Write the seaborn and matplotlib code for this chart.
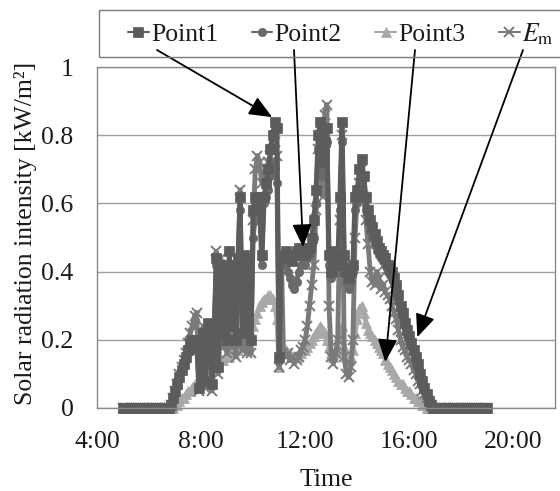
import numpy as np
import pandas as pd
import matplotlib
matplotlib.use("Agg")
import matplotlib.pyplot as plt
import seaborn as sns
from matplotlib.lines import Line2D
from matplotlib.patches import Rectangle

sns.set_theme(style="white")
plt.rcParams['font.family'] = ['Liberation Serif', 'DejaVu Serif']
plt.rcParams['mathtext.fontset'] = 'stix'

# time grid: every 5 minutes from 5:00 to 19:00 (hours as float)
time_h = np.arange(5 * 60, 19 * 60 + 1, 5) / 60.0

# readings, one row per hour (12 values = :00 ... :55), last value is 19:00
point1 = [
    0, 0, 0, 0, 0, 0, 0, 0, 0, 0, 0, 0,
    0, 0, 0, 0, 0, 0, 0, 0, 0, 0, 0.01, 0.03,
    0.05, 0.07, 0.09, 0.11, 0.13, 0.15, 0.17, 0.19, 0.20, 0.18, 0.20, 0.06,
    0.10, 0.22, 0.08, 0.25, 0.24, 0.07, 0.22, 0.44, 0.12, 0.42, 0.22, 0.40,
    0.20, 0.46, 0.24, 0.42, 0.20, 0.44, 0.62, 0.22, 0.45, 0.24, 0.44, 0.20,
    0.58, 0.62, 0.60, 0.62, 0.45, 0.62, 0.66, 0.70, 0.76, 0.80, 0.84, 0.82,
    0.15, 0.45, 0.44, 0.46, 0.44, 0.45, 0.43, 0.45, 0.46, 0.47, 0.45, 0.47,
    0.45, 0.46, 0.47, 0.50, 0.55, 0.64, 0.80, 0.84, 0.72, 0.78, 0.82, 0.45,
    0.40, 0.46, 0.43, 0.42, 0.62, 0.84, 0.45, 0.40, 0.38, 0.40, 0.42, 0.62,
    0.64, 0.70, 0.73, 0.68, 0.62, 0.58, 0.55, 0.53, 0.51, 0.49, 0.47, 0.46,
    0.45, 0.44, 0.42, 0.41, 0.40, 0.38, 0.36, 0.33, 0.30, 0.28, 0.25, 0.23,
    0.21, 0.19, 0.17, 0.15, 0.13, 0.10, 0.08, 0.06, 0.04, 0.02, 0.01, 0,
    0, 0, 0, 0, 0, 0, 0, 0, 0, 0, 0, 0,
    0, 0, 0, 0, 0, 0, 0, 0, 0, 0, 0, 0,
    0,
]
point2 = [
    0, 0, 0, 0, 0, 0, 0, 0, 0, 0, 0, 0,
    0, 0, 0, 0, 0, 0, 0, 0, 0, 0, 0.01, 0.03,
    0.05, 0.07, 0.09, 0.11, 0.13, 0.14, 0.16, 0.18, 0.19, 0.17, 0.19, 0.06,
    0.09, 0.20, 0.08, 0.22, 0.23, 0.07, 0.20, 0.42, 0.12, 0.40, 0.22, 0.38,
    0.20, 0.42, 0.24, 0.40, 0.20, 0.42, 0.58, 0.22, 0.42, 0.24, 0.42, 0.20,
    0.50, 0.56, 0.55, 0.58, 0.42, 0.60, 0.62, 0.64, 0.68, 0.72, 0.70, 0.66,
    0.14, 0.44, 0.42, 0.42, 0.40, 0.38, 0.36, 0.35, 0.37, 0.40, 0.42, 0.44,
    0.42, 0.44, 0.45, 0.48, 0.50, 0.60, 0.76, 0.80, 0.68, 0.75, 0.78, 0.42,
    0.38, 0.42, 0.40, 0.40, 0.58, 0.78, 0.42, 0.37, 0.35, 0.37, 0.40, 0.58,
    0.60, 0.65, 0.66, 0.62, 0.58, 0.55, 0.52, 0.50, 0.48, 0.46, 0.45, 0.44,
    0.43, 0.42, 0.40, 0.39, 0.38, 0.36, 0.34, 0.31, 0.28, 0.26, 0.24, 0.22,
    0.20, 0.18, 0.16, 0.13, 0.11, 0.09, 0.07, 0.05, 0.03, 0.02, 0.01, 0,
    0, 0, 0, 0, 0, 0, 0, 0, 0, 0, 0, 0,
    0, 0, 0, 0, 0, 0, 0, 0, 0, 0, 0, 0,
    0,
]
point3 = [
    0, 0, 0, 0, 0, 0, 0, 0, 0, 0, 0, 0,
    0, 0, 0, 0, 0, 0, 0, 0, 0, 0, 0, 0,
    0.01, 0.01, 0.02, 0.03, 0.03, 0.04, 0.05, 0.05, 0.06, 0.07, 0.07, 0.08,
    0.08, 0.09, 0.09, 0.10, 0.11, 0.11, 0.12, 0.13, 0.13, 0.14, 0.14, 0.15,
    0.15, 0.15, 0.16, 0.16, 0.17, 0.17, 0.18, 0.18, 0.18, 0.19, 0.20, 0.22,
    0.24, 0.26, 0.28, 0.30, 0.31, 0.32, 0.32, 0.33, 0.33, 0.32, 0.30, 0.26,
    0.12, 0.18, 0.17, 0.17, 0.16, 0.16, 0.15, 0.15, 0.15, 0.16, 0.16, 0.17,
    0.17, 0.18, 0.19, 0.20, 0.21, 0.22, 0.23, 0.24, 0.23, 0.22, 0.20, 0.18,
    0.16, 0.15, 0.16, 0.18, 0.22, 0.24, 0.18, 0.15, 0.14, 0.15, 0.17, 0.22,
    0.26, 0.29, 0.30, 0.28, 0.25, 0.23, 0.22, 0.21, 0.20, 0.19, 0.18, 0.17,
    0.16, 0.14, 0.13, 0.12, 0.11, 0.10, 0.09, 0.08, 0.07, 0.07, 0.06, 0.05,
    0.05, 0.04, 0.03, 0.03, 0.02, 0.02, 0.01, 0.01, 0, 0, 0, 0,
    0, 0, 0, 0, 0, 0, 0, 0, 0, 0, 0, 0,
    0, 0, 0, 0, 0, 0, 0, 0, 0, 0, 0, 0,
    0,
]
em = [
    0, 0, 0, 0, 0, 0, 0, 0, 0, 0, 0, 0,
    0, 0, 0, 0, 0, 0, 0, 0, 0, 0, 0.01, 0.03,
    0.05, 0.07, 0.10, 0.12, 0.14, 0.16, 0.19, 0.22, 0.24, 0.27, 0.28, 0.05,
    0.08, 0.24, 0.06, 0.22, 0.21, 0.05, 0.18, 0.46, 0.10, 0.44, 0.18, 0.36,
    0.16, 0.42, 0.18, 0.40, 0.15, 0.40, 0.64, 0.17, 0.44, 0.16, 0.43, 0.16,
    0.55, 0.70, 0.74, 0.72, 0.66, 0.68, 0.70, 0.72, 0.74, 0.76, 0.78, 0.74,
    0.12, 0.45, 0.16, 0.15, 0.16, 0.14, 0.15, 0.13, 0.14, 0.15, 0.17, 0.18,
    0.20, 0.24, 0.30, 0.36, 0.42, 0.58, 0.76, 0.80, 0.62, 0.86, 0.89, 0.30,
    0.15, 0.13, 0.16, 0.20, 0.55, 0.80, 0.15, 0.10, 0.09, 0.12, 0.20, 0.50,
    0.62, 0.66, 0.70, 0.62, 0.55, 0.48, 0.40, 0.37, 0.36, 0.40, 0.38, 0.35,
    0.36, 0.34, 0.33, 0.32, 0.30, 0.28, 0.26, 0.23, 0.20, 0.18, 0.17, 0.15,
    0.14, 0.13, 0.11, 0.10, 0.08, 0.07, 0.05, 0.04, 0.03, 0.02, 0.01, 0,
    0, 0, 0, 0, 0, 0, 0, 0, 0, 0, 0, 0,
    0, 0, 0, 0, 0, 0, 0, 0, 0, 0, 0, 0,
    0,
]

series_names = ["Point1", "Point2", "Point3", "Em"]
legend_labels = ["Point1", "Point2", "Point3", r"$E_\mathrm{m}$"]
tick_hours = [4, 8, 12, 16, 20]
tick_labels = ["4:00", "8:00", "12:00", "16:00", "20:00"]
y_ticks = [0, 0.2, 0.4, 0.6, 0.8, 1.0]
y_tick_labels = ["0", "0.2", "0.4", "0.6", "0.8", "1"]

df = pd.DataFrame({"time": time_h, "Point1": point1, "Point2": point2,
                   "Point3": point3, "Em": em})

# marker style per series
styles = {
    "Point1": dict(color="#5c5c5c", marker="s", markersize=7, markeredgewidth=0.5),
    "Point2": dict(color="#6a6a6a", marker="o", markersize=6, markeredgewidth=0.5),
    "Point3": dict(color="#a8a8a8", marker="^", markersize=6.5, markeredgewidth=0.5),
    "Em": dict(color="#7a7a7a", marker="x", markersize=6.5, markeredgewidth=1.4),
}

fs = 18.5
fig = plt.figure(figsize=(5.6, 4.91), dpi=100)
ax = fig.add_axes([97 / 560, 1 - 408 / 491, 458 / 560, 341 / 491])

# Excel draws later series on top; light Point3 sits underneath here
for name in ["Point3", "Em", "Point2", "Point1"]:
    st = styles[name]
    sns.lineplot(data=df, x="time", y=name, ax=ax, color=st["color"],
                 marker=st["marker"], markersize=st["markersize"],
                 markeredgecolor=st["color"], markeredgewidth=st["markeredgewidth"],
                 lw=3.5, errorbar=None, legend=False, clip_on=False)

ax.set_xlim(4, 21.6)
ax.set_ylim(0, 1)
ax.set_xticks(tick_hours)
ax.set_xticklabels(tick_labels)
ax.set_yticks(y_ticks)
ax.set_yticklabels(y_tick_labels)
ax.tick_params(axis="both", length=0, labelsize=fs, colors="#1a1a1a")
ax.tick_params(axis="x", pad=16.5)
ax.tick_params(axis="y", pad=17)
ax.yaxis.grid(True, color="#a0a0a0", lw=1)
ax.xaxis.grid(False)
for sp in ax.spines.values():
    sp.set_color("#8a8a8a")
    sp.set_linewidth(1)

ax.set_xlabel("Time", fontsize=fs, color="#1a1a1a")
ax.xaxis.set_label_coords(0.5, -0.179)
ax.set_ylabel("Solar radiation intensity [kW/m²]", fontsize=fs, color="#1a1a1a")
ax.yaxis.set_label_coords(-0.131, 0.513)

# legend box across the top
fig.add_artist(Rectangle((99 / 560, 1 - 57 / 491), 470 / 560, 47 / 491,
                         transform=fig.transFigure, fill=False,
                         edgecolor="#7a7a7a", lw=1))
handles = [Line2D([], [], color=styles[n]["color"], marker=styles[n]["marker"],
                  markersize=styles[n]["markersize"], markeredgecolor=styles[n]["color"],
                  markeredgewidth=styles[n]["markeredgewidth"], lw=1.5)
           for n in series_names]
fig.legend(handles, legend_labels, loc="center left",
           bbox_to_anchor=(128 / 560, 1 - 34 / 491), ncol=4, frameon=False,
           fontsize=fs, handlelength=0.8, handletextpad=0.1, columnspacing=1.3,
           borderpad=0, borderaxespad=0, labelcolor="#1a1a1a")

# arrows from each legend entry to its curve
arrow_tips = [(10.73, 0.853), (11.92, 0.472), (15.08, 0.135), (16.31, 0.208)]
arrow_starts = [(157, 50), (294, 50), (415, 50), (523, 50)]
for tip, (sx, sy) in zip(arrow_tips, arrow_starts):
    ax.annotate("", xy=tip, xycoords="data",
                xytext=(sx / 560, 1 - sy / 491), textcoords="figure fraction",
                arrowprops=dict(arrowstyle="-|>,head_length=0.7,head_width=0.3",
                                color="black", lw=1.3, shrinkA=0, shrinkB=0,
                                mutation_scale=20),
                annotation_clip=False)

fig.savefig("out.png", dpi=100)
